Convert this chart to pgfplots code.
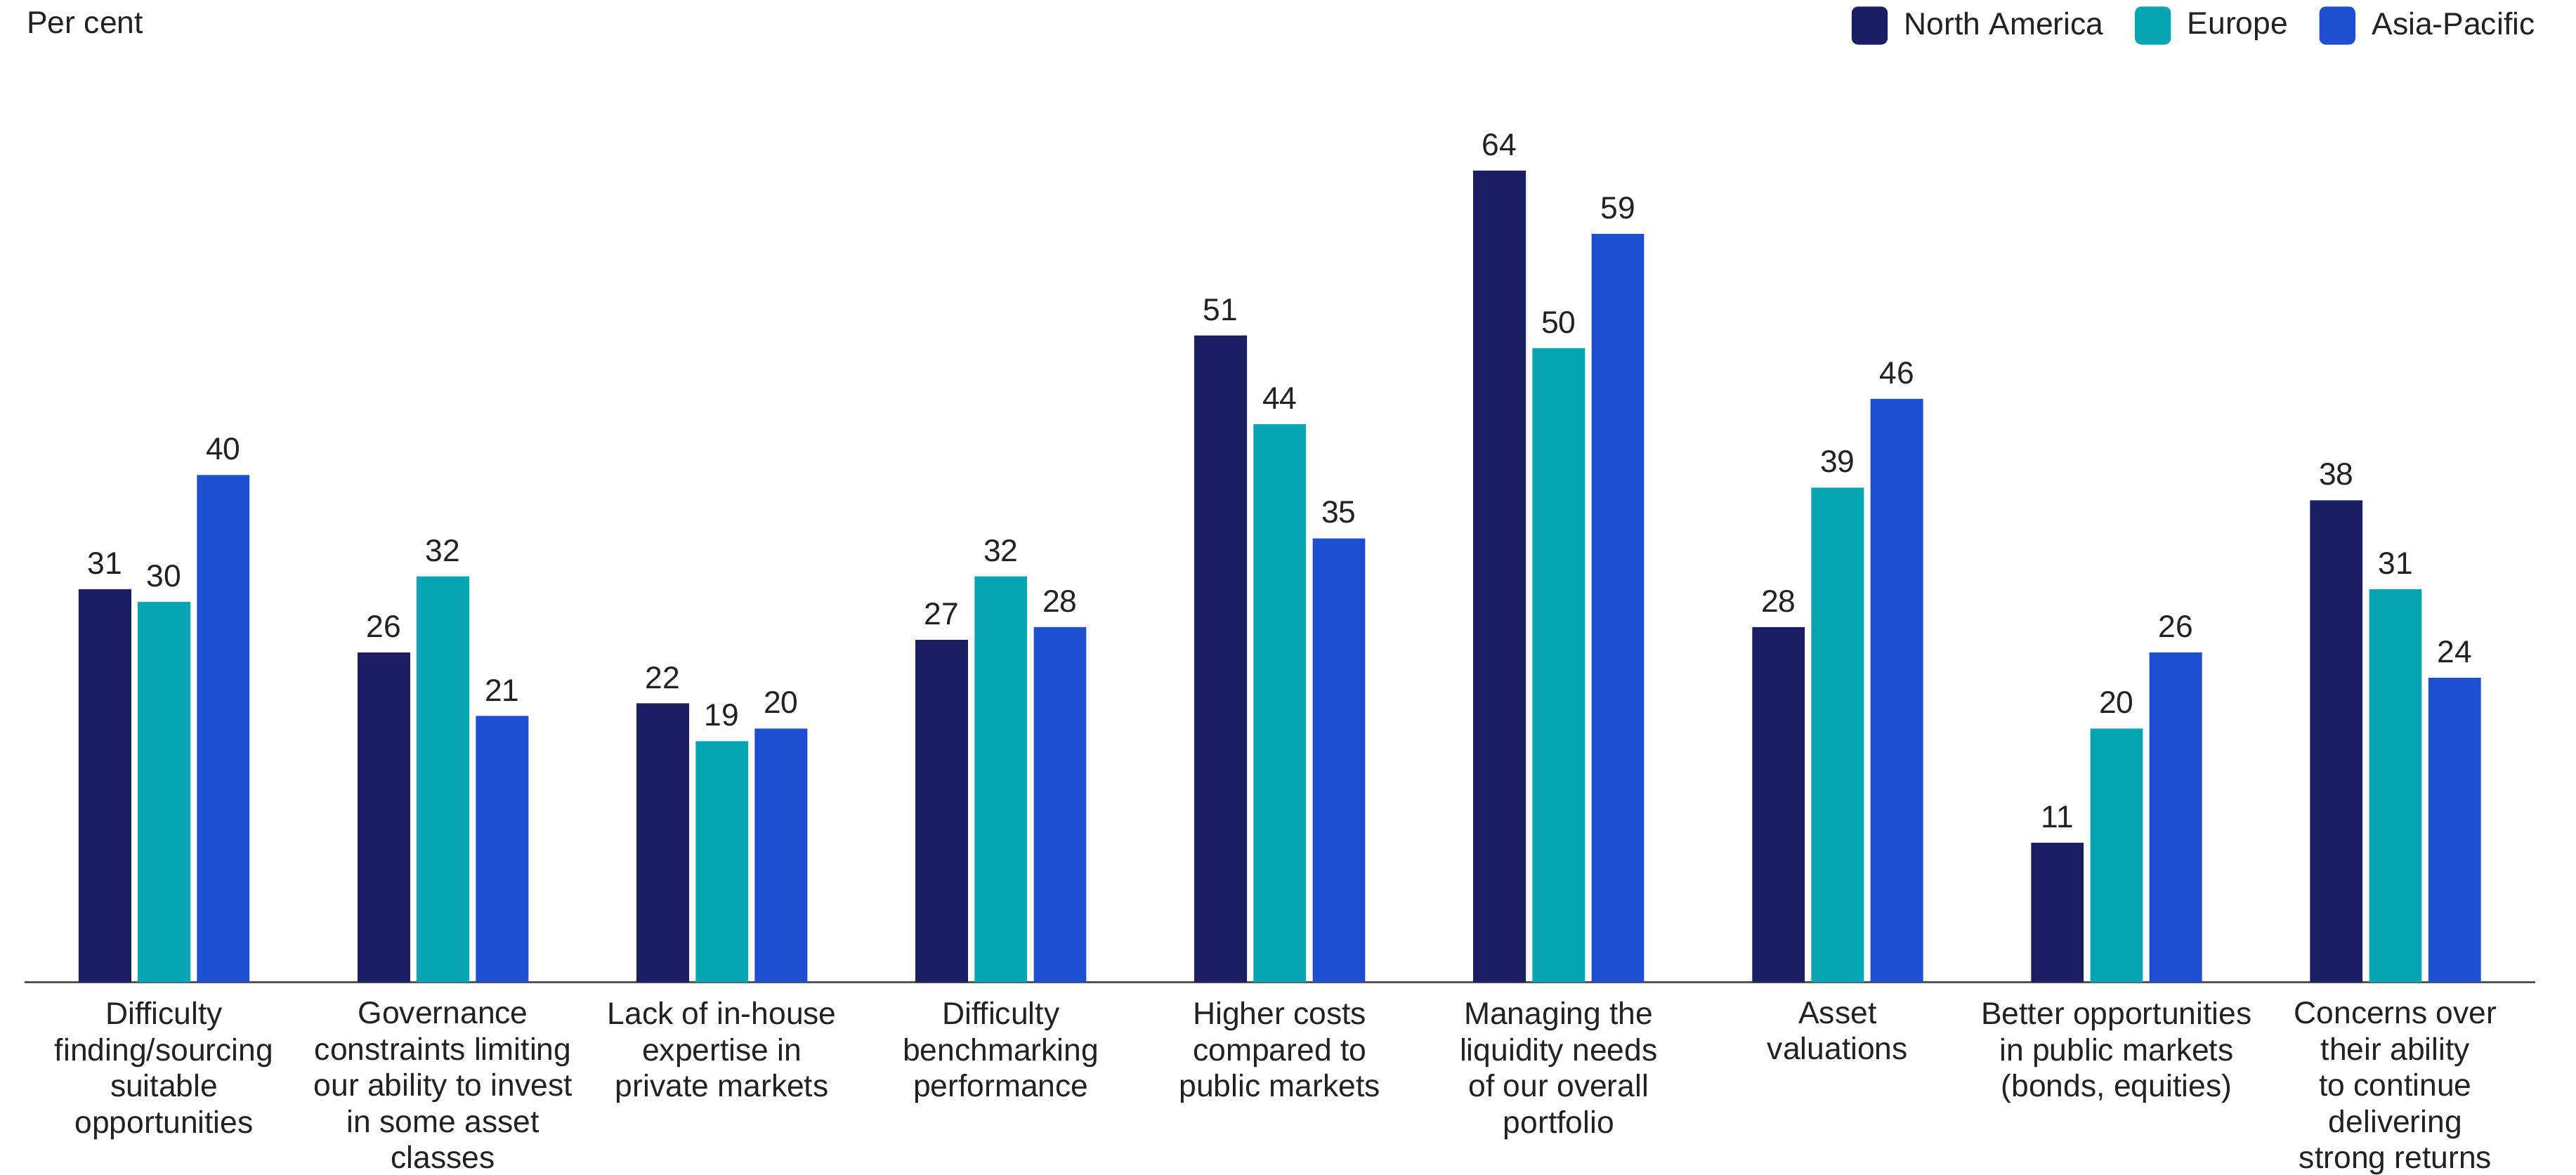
\documentclass[border=0pt]{standalone}
\usepackage{pgfplots}
\pgfplotsset{compat=1.18}
\usepackage{fontspec}
\setmainfont{Liberation Sans}
\definecolor{cNA}{HTML}{1B1E63}
\definecolor{cEU}{HTML}{05A5B3}
\definecolor{cAP}{HTML}{1F4FD1}
\definecolor{txt}{HTML}{222222}
\definecolor{base}{HTML}{555555}
\begin{document}
\begin{tikzpicture}
\begin{axis}[
  at={(7.5pt,-299pt)}, anchor=south west,
  scale only axis, width=764pt, height=298.4pt,
  xmin=-0.5, xmax=8.5, ymin=0, ymax=77.3,
  ybar=2pt, bar width=16pt,
  axis x line*=bottom, axis y line=none,
  x axis line style={draw=base, line width=0.7pt, -},
  ytick=\empty,
  xtick={0,...,8},
  major tick length=0pt,
  xticklabels={
    {Difficulty\\finding/sourcing\\suitable\\opportunities},
    {Governance\\constraints limiting\\our ability to invest\\in some asset\\classes},
    {Lack of in-house\\expertise in\\private markets},
    {Difficulty\\benchmarking\\performance},
    {Higher costs\\compared to\\public markets},
    {Managing the\\liquidity needs\\of our overall\\portfolio},
    {Asset\\valuations},
    {Better opportunities\\in public markets\\(bonds, equities)},
    {Concerns over\\their ability\\to continue\\delivering\\strong returns}},
  xticklabel style={align=center, font=\fontsize{9.5}{11}\selectfont, text=txt, yshift=-2.5pt},
  /pgf/number format/assume math mode=true,
  nodes near coords,
  every node near coord/.append style={font=\fontsize{9.5}{11}\selectfont, text=txt, yshift=1pt},
  legend columns=3,
  legend style={at={(1,1)}, anchor=north east, xshift=2pt, yshift=-1pt, draw=none, inner sep=0pt, outer sep=0pt,
    font=\fontsize{9.5}{11}\selectfont, text=txt,
    /tikz/every odd column/.append style={column sep=3pt},
    /tikz/every even column/.append style={column sep=7.5pt}},
  legend image code/.code={\draw[#1, draw=none, rounded corners=2pt] (0pt,-5.8pt) rectangle (11pt,5.8pt);},
  clip=false,
]
\addplot[fill=cNA, draw=none] coordinates {(0,31) (1,26) (2,22) (3,27) (4,51) (5,64) (6,28) (7,11) (8,38)};
\addplot[fill=cEU, draw=none] coordinates {(0,30) (1,32) (2,19) (3,32) (4,44) (5,50) (6,39) (7,20) (8,31)};
\addplot[fill=cAP, draw=none] coordinates {(0,40) (1,21) (2,20) (3,28) (4,35) (5,59) (6,46) (7,26) (8,24)};
\legend{North America, Europe, Asia-Pacific}
\end{axis}
\node[anchor=west, inner sep=0pt, font=\fontsize{9.5}{11}\selectfont, text=txt] at (8pt,-7pt) {Per cent};
\pgfresetboundingbox
\useasboundingbox (0,0) rectangle (784pt,-357.5pt);
\end{tikzpicture}
\end{document}
